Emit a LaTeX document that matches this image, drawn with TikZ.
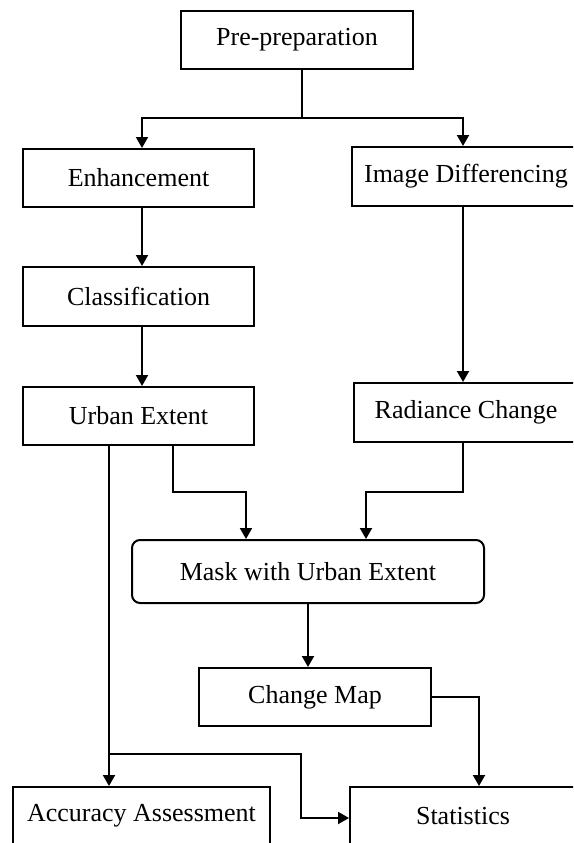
\documentclass[tikz,border=0pt]{standalone}
\usepackage{fontspec}
\setmainfont{Liberation Serif}
\usetikzlibrary{arrows.meta,calc}
\begin{document}
\begin{tikzpicture}[x=1pt,y=-1pt,
  box/.style={draw,line width=2pt,rectangle,minimum height=58pt,inner sep=0pt,
    font=\fontsize{26}{30}\selectfont},
  arr/.style={line width=2pt,-{Triangle[width=12pt,length=11pt]}},
  ln/.style={line width=2pt}]
\useasboundingbox (0,0) rectangle (573,843);
\fill[white] (0,0) rectangle (573,843);
\clip (0,0) rectangle (573,843);
% boxes
\node[box,minimum width=232pt] (pre) at (297,40) {Pre-preparation};
\node[box,minimum width=231pt] (enh) at (138.5,178) {Enhancement};
\node[box,minimum width=231pt,minimum height=59pt] (cls) at (138.5,296.5) {Classification};
\node[box,minimum width=231pt] (ue) at (138.5,416) {Urban Extent};
\node[box,minimum width=228pt,minimum height=59pt] (idiff) at (466,176.5) {Image Differencing};
\node[box,minimum width=224pt,minimum height=59pt] (rad) at (466,412.5) {Radiance Change};
\node[box,minimum width=352pt,minimum height=63pt,rounded corners=8pt] (mask) at (308,571.5) {Mask with Urban Extent};
\node[box,minimum width=232pt] (cm) at (315,697) {Change Map};
\node[box,minimum width=257pt] (acc) at (141.5,816) {Accuracy Assessment};
\node[box,minimum width=226pt] (stat) at (463,816) {Statistics};
% helper coordinates
\coordinate (j0) at (302,118);
\coordinate (xa) at (142,0);
\coordinate (xb) at (463,0);
\coordinate (u1) at (173,492);
\coordinate (m1) at (246,0);
\coordinate (r1) at (463,492);
\coordinate (m2) at (366,0);
\coordinate (s1) at (479,0);
\coordinate (a1) at (109,754);
\coordinate (a2) at (301,818);
% connectors
\draw[ln] (pre.south -| j0) -- (j0);
\draw[arr] (j0) -| (enh.north -| xa);
\draw[arr] (j0) -| (idiff.north -| xb);
\draw[arr] (enh.south -| xa) -- (cls.north -| xa);
\draw[arr] (cls.south -| xa) -- (ue.north -| xa);
\draw[arr] (idiff.south -| xb) -- (rad.north -| xb);
\draw[arr] (ue.south -| u1) -- (u1) -| (mask.north -| m1);
\draw[arr] (rad.south -| r1) -- (r1) -| (mask.north -| m2);
\draw[arr] (mask.south) -- (mask.south |- cm.north);
\draw[arr] (cm.east) -| (stat.north -| s1);
\draw[arr] (ue.south -| a1) -- (acc.north -| a1);
\draw[arr] (a1) -| (a2) -- (stat.west |- a2);
\end{tikzpicture}
\end{document}
